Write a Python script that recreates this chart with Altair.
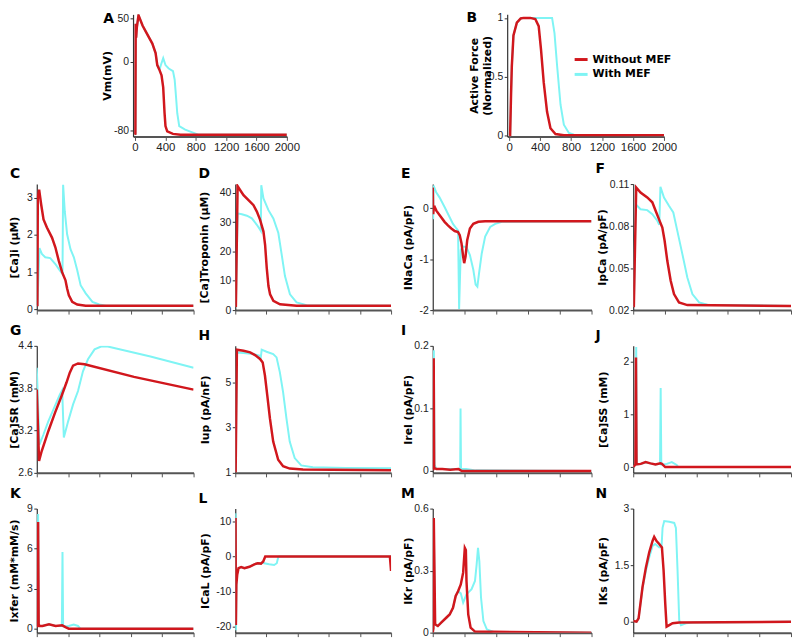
import altair as alt
import pandas as pd

# ---------------- data (time in ms) ----------------
SERIES = ["Without MEF", "With MEF"]
XTICKS = [0, 400, 800, 1200, 1600, 2000]

# A: membrane potential
a_t_red = [0, 6, 10, 16, 25, 47, 100, 143, 229, 272, 294, 320, 350, 372, 390, 402, 425, 500, 600, 2000]
a_v_red = [-85, -84, 44, 28, 40, 54, 42, 35, 21, 10, -4, -9, -16, -30, -60, -75, -81, -84, -85, -85]
a_t_cyan = [0, 6, 10, 16, 25, 47, 100, 143, 229, 272, 294, 324, 345, 372, 402, 445, 501, 523, 540, 557, 583, 661, 747, 834, 2000]
a_v_cyan = [-85, -84, 44, 28, 40, 54, 42, 35, 21, 10, -4, -9, -3, 4, -4, -8, -11, -21, -40, -60, -75, -79, -82, -85, -85]

# B: active force
b_t_red = [0, 13, 25, 35, 56, 100, 150, 187, 273, 338, 382, 412, 447, 490, 534, 599, 707, 2000]
b_v_red = [0, 0, 0.35, 0.59, 0.85, 0.96, 0.995, 1.0, 1.0, 0.99, 0.93, 0.73, 0.45, 0.2, 0.06, 0.01, 0.0, 0.0]
b_t_cyan = [0, 13, 25, 35, 56, 100, 150, 187, 273, 338, 450, 555, 586, 620, 664, 707, 772, 837, 2000]
b_v_cyan = [0, 0, 0.35, 0.59, 0.85, 0.96, 0.995, 1.0, 1.0, 1.0, 1.0, 1.0, 0.87, 0.59, 0.26, 0.09, 0.02, 0.005, 0.0]

# C: [Ca]i
c_t_red = [0, 8, 13, 30, 56, 86, 129, 194, 237, 280, 323, 366, 387, 409, 452, 516, 624, 2000]
c_v_red = [0.12, 0.12, 3.0, 3.22, 2.82, 2.42, 2.2, 1.93, 1.67, 1.31, 1.0, 0.78, 0.56, 0.38, 0.2, 0.13, 0.1, 0.1]
c_t_cyan = [0, 8, 34, 65, 108, 172, 237, 280, 328, 336, 357, 387, 430, 473, 516, 559, 624, 710, 796, 882, 2000]
c_v_cyan = [0.12, 0.12, 1.65, 1.49, 1.4, 1.38, 1.22, 1.09, 0.95, 3.35, 2.64, 2.02, 1.62, 1.4, 1.05, 0.65, 0.43, 0.2, 0.13, 0.1, 0.1]

# D: [Ca]Troponin
d_t_red = [0, 8, 30, 64, 106, 170, 234, 277, 319, 362, 383, 404, 426, 447, 489, 574, 787, 2000]
d_v_red = [1.5, 1.5, 42.3, 40.9, 39.2, 37.5, 35.8, 33.6, 30.8, 26.8, 22.3, 14.4, 8.2, 5.4, 3.2, 2.0, 1.5, 1.5]
d_t_cyan = [0, 8, 30, 85, 149, 213, 277, 319, 328, 334, 362, 426, 489, 553, 596, 638, 702, 787, 915, 2000]
d_v_cyan = [1.5, 1.5, 33, 32.7, 32.2, 31.3, 29.1, 27.4, 27, 42.6, 38.1, 34.1, 31.3, 26.3, 18.9, 11.6, 5.4, 2.6, 1.7, 1.5]

# E: INaCa
e_t_red = [0, 6, 12, 25, 45, 106, 149, 191, 234, 277, 319, 340, 362, 383, 396, 413, 434, 468, 511, 574, 660, 2000]
e_v_red = [0.4, -0.12, 0.0, 0.02, -0.05, -0.18, -0.27, -0.34, -0.4, -0.45, -0.47, -0.53, -0.69, -0.95, -1.08, -0.95, -0.63, -0.4, -0.31, -0.27, -0.26, -0.26]
e_t_cyan = [0, 5, 10, 43, 85, 149, 213, 255, 298, 319, 332, 353, 383, 426, 468, 511, 540, 562, 583, 617, 660, 723, 787, 872, 2000]
e_v_cyan = [-0.2, -0.2, 0.44, 0.31, 0.21, 0.02, -0.18, -0.31, -0.4, -0.44, -1.98, -0.82, -0.75, -0.77, -0.92, -1.21, -1.5, -1.54, -1.28, -0.89, -0.56, -0.37, -0.31, -0.27, -0.26]

# F: IpCa
f_t_red = [0, 8, 38, 93, 178, 242, 284, 326, 369, 398, 432, 475, 517, 580, 686, 2000]
f_v_red = [0.023, 0.023, 0.1076, 0.104, 0.1005, 0.097, 0.091, 0.085, 0.079, 0.0695, 0.0552, 0.041, 0.0314, 0.0255, 0.0236, 0.023]
f_t_cyan = [0, 8, 30, 93, 178, 242, 305, 330, 345, 390, 453, 508, 559, 623, 686, 750, 835, 941, 2000]
f_v_cyan = [0.023, 0.023, 0.0957, 0.092, 0.0914, 0.0885, 0.0838, 0.081, 0.108, 0.1004, 0.0945, 0.0897, 0.0766, 0.06, 0.0433, 0.0314, 0.0255, 0.0238, 0.023]

# G: [Ca]SR
g_t_red = [0, 29, 63, 147, 232, 316, 379, 421, 463, 526, 610, 1240, 2000]
g_v_red = [3.78, 2.77, 2.91, 3.19, 3.45, 3.69, 3.88, 4.02, 4.12, 4.15, 4.14, 3.96, 3.78]
g_t_cyan = [0, 34, 84, 147, 232, 295, 324, 345, 400, 463, 526, 589, 653, 737, 821, 905, 1450, 2000]
g_v_cyan = [4.09, 3.0, 3.14, 3.33, 3.55, 3.71, 3.77, 3.1, 3.33, 3.57, 3.76, 4.04, 4.21, 4.35, 4.39, 4.39, 4.25, 4.09]

# H: Iup
h_t_red = [0, 5, 21, 106, 191, 254, 318, 352, 381, 411, 445, 487, 551, 614, 699, 869, 2000]
h_v_red = [1.07, 1.07, 6.43, 6.38, 6.31, 6.19, 6.02, 5.87, 5.29, 4.42, 3.4, 2.38, 1.58, 1.29, 1.19, 1.15, 1.12]
h_t_cyan = [0, 5, 21, 106, 233, 318, 326, 339, 402, 487, 530, 572, 614, 657, 699, 763, 847, 996, 1419, 2000]
h_v_cyan = [1.07, 1.07, 6.31, 6.28, 6.24, 6.16, 6.02, 6.43, 6.34, 6.24, 6.09, 5.44, 4.56, 3.4, 2.38, 1.65, 1.33, 1.25, 1.22, 1.2]

# I: Irel
i_t_red = [0, 8, 12, 18, 46, 120, 220, 325, 367, 2000]
i_v_red = [0.003, 0.003, 0.18, 0.005, 0.003, 0.003, 0.002, 0.003, 0.0, 0.0]
i_t_cyan = [0, 8, 14, 22, 46, 150, 330, 346, 350, 356, 420, 540, 2000]
i_v_cyan = [0.003, 0.003, 0.193, 0.01, 0.003, 0.003, 0.003, 0.003, 0.1, 0.003, 0.003, 0.001, 0.0]

# J: [Ca]SS
j_t_red = [0, 28, 35, 42, 95, 157, 219, 282, 344, 364, 406, 2000]
j_v_red = [0.0, 0.05, 2.08, 0.05, 0.06, 0.094, 0.07, 0.05, 0.07, 0.06, 0.0, 0.0]
j_t_cyan = [0, 28, 38, 45, 95, 157, 219, 282, 340, 348, 356, 380, 426, 489, 551, 571, 2000]
j_v_cyan = [0.0, 0.05, 2.28, 0.05, 0.06, 0.09, 0.07, 0.05, 0.06, 1.5, 0.05, 0.05, 0.06, 0.094, 0.04, 0.0, 0.0]

# K: Ixfer
k_t_red = [0, 10, 17, 24, 38, 72, 156, 240, 324, 366, 408, 2000]
k_v_red = [0.2, 0.2, 8.0, 0.3, 0.2, 0.2, 0.33, 0.2, 0.25, 0.12, 0.0, 0.0]
k_t_cyan = [0, 10, 17, 24, 38, 72, 156, 240, 320, 328, 336, 360, 408, 471, 526, 556, 2000]
k_v_cyan = [0.2, 0.2, 8.6, 0.3, 0.2, 0.2, 0.33, 0.2, 0.2, 5.75, 0.18, 0.18, 0.2, 0.3, 0.2, 0.0, 0.0]

# L: ICaL
l_t_red = [0, 4, 8, 14, 25, 42, 76, 118, 182, 245, 288, 330, 359, 385, 1985, 2000]
l_v_red = [0, 11, -19.5, -8, -5.2, -3.3, -3.0, -3.3, -2.9, -2.2, -1.9, -2.0, -1.4, 0, 0, -4.1]
l_t_cyan = [0, 4, 9, 15, 25, 42, 76, 118, 182, 245, 288, 330, 351, 372, 436, 499, 533, 550, 562, 2000]
l_v_cyan = [0, 12.4, -21, -8, -4.3, -3.3, -3.0, -3.3, -2.9, -2.2, -1.9, -2.0, -1.6, -1.9, -2.2, -2.4, -1.9, -0.3, 0, 0]

# M: IKr
m_t_red = [0, 8, 13, 30, 64, 106, 170, 213, 255, 289, 319, 353, 383, 404, 417, 425, 447, 477, 532, 2000]
m_v_red = [0.0, 0.02, 0.555, 0.04, 0.032, 0.048, 0.072, 0.088, 0.12, 0.177, 0.2, 0.233, 0.29, 0.41, 0.40, 0.25, 0.088, 0.024, 0.005, 0.0]
m_t_cyan = [0, 8, 13, 30, 64, 106, 170, 213, 255, 289, 319, 353, 383, 425, 489, 532, 553, 570, 587, 608, 638, 681, 766, 2000]
m_v_cyan = [0.0, 0.02, 0.5, 0.04, 0.032, 0.048, 0.072, 0.088, 0.12, 0.177, 0.2, 0.19, 0.145, 0.185, 0.21, 0.25, 0.33, 0.41, 0.345, 0.17, 0.056, 0.016, 0.003, 0.0]

# N: IKs
n_t_red = [0, 42, 68, 118, 161, 203, 245, 266, 296, 330, 364, 385, 406, 423, 457, 499, 583, 2000]
n_v_red = [0.02, 0.0, 0.09, 0.92, 1.44, 1.84, 2.14, 2.25, 2.14, 2.06, 1.97, 1.36, 0.48, -0.13, -0.09, -0.04, -0.02, 0.0]
n_t_cyan = [0, 42, 68, 118, 161, 203, 245, 279, 330, 359, 372, 393, 457, 520, 541, 562, 583, 605, 668, 753, 2000]
n_v_cyan = [0.02, 0.0, 0.09, 0.9, 1.35, 1.71, 2.01, 2.06, 1.97, 1.99, 2.49, 2.67, 2.65, 2.62, 2.49, 1.36, 0.04, -0.09, -0.04, -0.02, 0.0]

# ---------------- styling ----------------
RED = "#d1171d"
CYAN = "#7ff4f4"
TFONT = "DejaVu Sans"
LFONT = "Liberation Sans"


def panel(letter, tr, vr, tc, vc, ytitle, yvals, ydom, w, h, letter_dx, title_x,
          xlabels=False, legend=None, xdom=(0, 2000), letter_offset=3):
    df_c = pd.DataFrame({"t": tc, "v": vc, "s": SERIES[1]})
    df_r = pd.DataFrame({"t": tr, "v": vr, "s": SERIES[0]})
    xaxis = alt.Axis(values=XTICKS, labels=xlabels, title=None, grid=False,
                     labelExpr="toString(datum.value)", labelOverlap=False,
                     domainColor="#555555", domainWidth=2, tickColor="#555555",
                     tickSize=4, labelFont=LFONT, labelFontSize=11.5,
                     labelColor="#222222", labelPadding=1, labelFlush=False)
    yaxis = alt.Axis(values=yvals, labelExpr="toString(datum.value)", title=ytitle,
                     grid=False, labelOverlap=False, domainColor="#333333", domainWidth=1.2,
                     tickColor="#333333", tickSize=3, labelFont=LFONT,
                     labelFontSize=10.5, labelColor="#222222", labelPadding=1.5,
                     titleFont=TFONT, titleFontSize=11, titleFontWeight="bold",
                     titleColor="black", titleX=title_x, titleBaseline="middle",
                     titleLineHeight=13)
    x = alt.X("t:Q", scale=alt.Scale(domain=list(xdom), nice=False, zero=False), axis=xaxis)
    y = alt.Y("v:Q", scale=alt.Scale(domain=list(ydom), nice=False, zero=False), axis=yaxis)
    cscale = alt.Scale(domain=SERIES, range=[RED, CYAN])
    if legend is None:
        col = alt.Color("s:N", scale=cscale, legend=None)
    else:
        col = alt.Color("s:N", scale=cscale, legend=legend)
    lc = alt.Chart(df_c).mark_line(strokeWidth=2, clip=True).encode(x=x, y=y, color=col)
    lr = alt.Chart(df_r).mark_line(strokeWidth=2.5, clip=True).encode(x=x, y=y, color=col)
    return alt.layer(lc, lr).properties(
        width=w, height=h,
        title=alt.TitleParams(text=letter, anchor="start", frame="group", dx=letter_dx,
                              offset=letter_offset, fontSize=14, font=TFONT,
                              fontWeight="bold", color="black"))


spacer_df = pd.DataFrame({"v": [0.5]})


def spacer(w, h):
    return alt.Chart(spacer_df).mark_point(opacity=0, size=1).encode(
        x=alt.X("v:Q", axis=None, scale=alt.Scale(domain=[0, 1])),
        y=alt.Y("v:Q", axis=None, scale=alt.Scale(domain=[0, 1]))).properties(width=w, height=h)


legendB = alt.Legend(orient="none", legendX=66, legendY=37, title=None,
                     symbolType="stroke", symbolStrokeWidth=3, symbolSize=170,
                     labelFont=TFONT, labelFontWeight="bold", labelFontSize=11,
                     labelColor="black", rowPadding=0, padding=0, labelOffset=3)

W = [158, 157, 160, 159]
H2, H3, H4 = 127, 128, 125
SPC = 42
ROW1 = 135

pA = panel("A", a_t_red, a_v_red, a_t_cyan, a_v_cyan, "Vm(mV)", [-80, 0, 50], [-87, 55],
           155, 123, -30, -26, xlabels=True, xdom=(-25, 2000), letter_offset=-12)
pB = panel("B", b_t_red, b_v_red, b_t_cyan, b_v_cyan, ["Active Force", "(Normalized)"],
           [0, 0.5, 1], [-0.01, 1.03], 158, 123, -41, -33, xlabels=True, legend=legendB,
           xdom=(-25, 2000), letter_offset=-12)

cellA = alt.hconcat(spacer(55, 123), pA, spacing=SPC, bounds="flush").resolve_scale(color="independent")
cellB = alt.hconcat(spacer(33, 123), pB, spacing=SPC, bounds="flush").resolve_scale(color="independent")

pC = panel("C", c_t_red, c_v_red, c_t_cyan, c_v_cyan, "[Ca]i (μM)", [0, 1, 2, 3], [-0.02, 3.37], W[0], H2, -27, -22)
pD = panel("D", d_t_red, d_v_red, d_t_cyan, d_v_cyan, "[Ca]Troponin (μM)", [0, 10, 20, 30, 40], [0, 43], W[1], H2, -37, -31)
pE = panel("E", e_t_red, e_v_red, e_t_cyan, e_v_cyan, "INaCa (pA/pF)", [-2, -1, 0], [-2, 0.47], W[2], H2, -32, -24)
pF = panel("F", f_t_red, f_v_red, f_t_cyan, f_v_cyan, "IpCa (pA/pF)", [0.02, 0.05, 0.08, 0.11], [0.02, 0.11], W[3], H2, -38, -31)

pG = panel("G", g_t_red, g_v_red, g_t_cyan, g_v_cyan, "[Ca]SR (mM)", [2.6, 3.2, 3.8, 4.4], [2.6, 4.4], W[0], H3, -27, -22)
pH = panel("H", h_t_red, h_v_red, h_t_cyan, h_v_cyan, "Iup (pA/nF)", [1, 3, 5], [1, 6.6], W[1], H3, -37, -30)
pI = panel("I", i_t_red, i_v_red, i_t_cyan, i_v_cyan, "Irel (pA/pF)", [0, 0.1, 0.2], [-0.003, 0.2], W[2], H3, -32, -24)
pJ = panel("J", j_t_red, j_v_red, j_t_cyan, j_v_cyan, "[Ca]SS (mM)", [0, 1, 2], [-0.11, 2.3], W[3], H3, -38, -30)

pK = panel("K", k_t_red, k_v_red, k_t_cyan, k_v_cyan, "Ixfer (mM*mM/s)", [0, 3, 6, 9], [-0.3, 9], W[0], H4, -27, -22)
pL = panel("L", l_t_red, l_v_red, l_t_cyan, l_v_cyan, "ICaL (pA/pF)", [-20, -10, 0, 10], [-21.7, 13.7], W[1], H4, -37, -30)
pM = panel("M", m_t_red, m_v_red, m_t_cyan, m_v_cyan, "IKr (pA/pF)", [0, 0.3, 0.6], [0, 0.6], W[2], H4, -32, -24)
pN = panel("N", n_t_red, n_v_red, n_t_cyan, n_v_cyan, "IKs (pA/pF)", [0, 1.5, 3], [-0.29, 3], W[3], H4, -38, -30)

chart = alt.concat(
    cellA, spacer(1, ROW1), cellB, spacer(1, ROW1),
    pC, pD, pE, pF,
    pG, pH, pI, pJ,
    pK, pL, pM, pN,
    columns=4,
    spacing={"row": 36, "column": SPC},
    bounds="flush",
    align="each",
).resolve_scale(color="independent").properties(
    padding={"left": 0, "top": 0, "right": 0, "bottom": 0},
    background="white",
).configure_view(strokeWidth=0)

chart.save("out.html", embed_options={"renderer": "svg", "actions": False})
